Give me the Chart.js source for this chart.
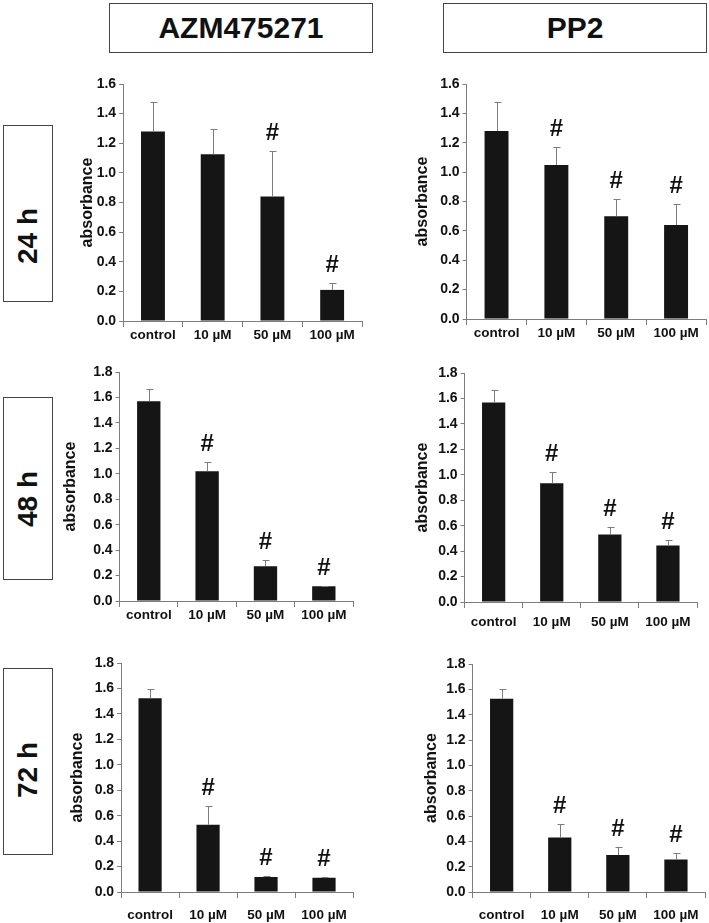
<!DOCTYPE html>
<html>
<head>
<meta charset="utf-8">
<script src="https://cdn.jsdelivr.net/npm/chart.js@4.4.1/dist/chart.umd.min.js"></script>
<style>
  body { margin: 0; background: #fff; }
  #page { position: relative; width: 709px; height: 923px; overflow: hidden; font-family: 'Liberation Sans', Arial, sans-serif; }
  .box { position: absolute; box-sizing: border-box; border: 1.5px solid #444; display: flex; align-items: center; justify-content: center; font-weight: bold; color: #111; }
  .head { font-size: 30px; }
  .row span { display: block; transform: rotate(-90deg); white-space: nowrap; font-size: 28px; position: relative; }
  canvas { position: absolute; }
</style>
</head>
<body>
<div id="page">
  <div class="box head" style="left:109px;top:3px;width:264px;height:50px;">AZM475271</div>
  <div class="box head" style="left:443px;top:3px;width:264px;height:50px;">PP2</div>
  <div class="box row" style="left:3px;top:125px;width:50px;height:177px;"><span style="top:22px;">24 h</span></div>
  <div class="box row" style="left:3px;top:397px;width:50px;height:183px;"><span style="top:10px;">48 h</span></div>
  <div class="box row" style="left:3px;top:668px;width:50px;height:187px;"><span style="top:8px;">72 h</span></div>
</div>
<script>
const categories = ['control', '10 µM', '50 µM', '100 µM'];

// absorbance means, upper error (SD) and significance (#)
const azm24 = [1.28, 1.125, 0.84, 0.21];
const azm24Err = [0.20, 0.17, 0.31, 0.045];
const azm24Sig = [false, false, true, true];

const pp24 = [1.28, 1.048, 0.70, 0.64];
const pp24Err = [0.20, 0.125, 0.12, 0.14];
const pp24Sig = [false, true, true, true];

const azm48 = [1.57, 1.02, 0.273, 0.115];
const azm48Err = [0.10, 0.07, 0.052, 0.006];
const azm48Sig = [false, true, true, true];

const pp48 = [1.568, 0.933, 0.531, 0.444];
const pp48Err = [0.10, 0.087, 0.055, 0.042];
const pp48Sig = [false, true, true, true];

const azm72 = [1.522, 0.529, 0.118, 0.112];
const azm72Err = [0.074, 0.144, 0.005, 0.004];
const azm72Sig = [false, true, true, true];

const pp72 = [1.526, 0.43, 0.292, 0.256];
const pp72Err = [0.074, 0.11, 0.064, 0.055];
const pp72Sig = [false, true, true, true];

const grey = '#7d7d7d';
const ink = '#151515';

const errorBars = {
  id: 'errorBars',
  afterDatasetsDraw(chart, args, opts) {
    const ctx = chart.ctx;
    const y = chart.scales.y;
    const vals = chart.data.datasets[0].data;
    chart.getDatasetMeta(0).data.forEach((bar, i) => {
      const top = Math.round(y.getPixelForValue(vals[i] + opts.errors[i]));
      const x = Math.round(bar.x) + 0.5;
      ctx.save();
      ctx.strokeStyle = grey;
      ctx.lineWidth = 1;
      ctx.beginPath();
      ctx.moveTo(x, bar.y);
      ctx.lineTo(x, top);
      ctx.moveTo(x - 3, top + 0.5);
      ctx.lineTo(x + 4, top + 0.5);
      ctx.stroke();
      if (opts.marks[i]) {
        ctx.fillStyle = '#111';
        ctx.font = 'bold 24px "Liberation Sans", Arial';
        ctx.textAlign = 'center';
        ctx.textBaseline = 'middle';
        ctx.fillText('#', bar.x, top - 18);
      }
      ctx.restore();
    });
  }
};

const panels = [
  { values: azm24, errors: azm24Err, marks: azm24Sig, max: 1.6, left: 123, right: 362, top: 84, bottom: 321, titleGap: 35.5, labelGap: 14 },
  { values: pp24, errors: pp24Err, marks: pp24Sig, max: 1.6, left: 467, right: 706, top: 84, bottom: 319, titleGap: 44, labelGap: 14 },
  { values: azm48, errors: azm48Err, marks: azm48Sig, max: 1.8, left: 120, right: 353, top: 372, bottom: 601, titleGap: 49, labelGap: 14 },
  { values: pp48, errors: pp48Err, marks: pp48Sig, max: 1.8, left: 465, right: 697, top: 373, bottom: 602, titleGap: 42, labelGap: 20 },
  { values: azm72, errors: azm72Err, marks: azm72Sig, max: 1.8, left: 121, right: 353, top: 663, bottom: 892, titleGap: 43.5, labelGap: 23 },
  { values: pp72, errors: pp72Err, marks: pp72Sig, max: 1.8, left: 473, right: 705, top: 664, bottom: 892, titleGap: 41, labelGap: 23 }
];

const tickFont = { family: "'Liberation Sans', Arial", size: 14, weight: 'bold' };
const catFont = { family: "'Liberation Sans', Arial", size: 13.5, weight: 'bold' };
const titleFont = { family: "'Liberation Sans', Arial", size: 16, weight: 'bold' };

const padTop = 12;
const xHeight = 42;

panels.forEach(p => {
  const yWidth = p.titleGap + titleFont.size * 1.2 / 2;
  const canvas = document.createElement('canvas');
  const left = p.left - yWidth;
  canvas.width = Math.round(p.right + 3 - left);
  canvas.height = padTop + (p.bottom - p.top) + xHeight;
  canvas.style.left = left + 'px';
  canvas.style.top = (p.top - padTop) + 'px';
  document.getElementById('page').appendChild(canvas);

  new Chart(canvas, {
    type: 'bar',
    data: {
      labels: categories,
      datasets: [{
        data: p.values,
        backgroundColor: ink,
        barPercentage: 0.4,
        categoryPercentage: 1
      }]
    },
    options: {
      responsive: false,
      animation: false,
      devicePixelRatio: 1,
      layout: { padding: { top: padTop, right: 3, left: 0, bottom: 0 } },
      plugins: {
        legend: { display: false },
        tooltip: { enabled: false },
        errorBars: { errors: p.errors, marks: p.marks }
      },
      scales: {
        x: {
          grid: { offset: true, drawOnChartArea: false, tickLength: 6, color: grey },
          border: { color: grey },
          ticks: { font: catFont, color: '#111', maxRotation: 0, autoSkip: false, padding: Math.max(0, p.labelGap - 6 - catFont.size * 0.6) },
          afterFit: s => { s.height = xHeight; }
        },
        y: {
          min: 0,
          max: p.max,
          ticks: { stepSize: 0.2, callback: v => v.toFixed(1), font: tickFont, color: '#111', padding: 3 },
          grid: { drawOnChartArea: false, tickLength: 4, color: grey },
          border: { color: grey },
          title: { display: true, text: 'absorbance', font: titleFont, color: '#111', padding: 0 },
          afterFit: s => { s.width = yWidth; }
        }
      }
    },
    plugins: [errorBars]
  });
});
</script>
</body>
</html>
